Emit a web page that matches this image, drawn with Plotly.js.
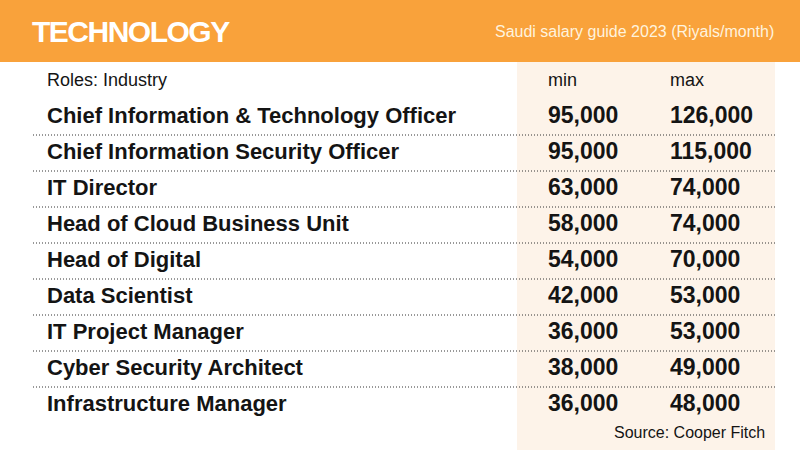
<!DOCTYPE html>
<html>
<head>
<meta charset="utf-8">
<script src="https://cdn.plot.ly/plotly-3.0.1.min.js"></script>
<style>
  html, body { margin: 0; padding: 0; background: #fff; }
  #chart { width: 800px; height: 450px; }
</style>
</head>
<body>
<div id="chart"></div>
<script>
// ── Data ──
const roles = [
    "Chief Information & Technology Officer",
    "Chief Information Security Officer",
    "IT Director",
    "Head of Cloud Business Unit",
    "Head of Digital",
    "Data Scientist",
    "IT Project Manager",
    "Cyber Security Architect",
    "Infrastructure Manager"
];
const minPay = [95000, 95000, 63000, 58000, 54000, 42000, 36000, 38000, 36000];
const maxPay = [126000, 115000, 74000, 74000, 70000, 53000, 53000, 49000, 48000];
const headers = ["Roles: Industry", "min", "max"];

// ── Layout helpers ──
const FONT = "'Liberation Sans Narrow', 'Liberation Sans', sans-serif";
const ROW_H = 36;
const FIRST_ROW = 117;          // px centre of first data row
const y0 = -FIRST_ROW / ROW_H;  // axis value at top edge
const y1 = y0 + 450 / ROW_H;

const rowIdx = roles.map((_, i) => i);
const fmt = v => v.toLocaleString("en-US");

// column x positions (px, since the x axis spans 0..800)
const COL_ROLE = 47, COL_MIN = 548, COL_MAX = 670;

function textCol(x, texts, ys, size, weight) {
    return {
        type: "scatter",
        mode: "text",
        x: ys.map(() => x),
        y: ys,
        text: texts,
        textposition: "middle right",
        textfont: { family: FONT, size: size, color: "#141414", weight: weight },
        hoverinfo: "skip",
        showlegend: false,
        cliponaxis: false
    };
}

const traces = [
    textCol(COL_ROLE, roles, rowIdx, 22, 700),
    textCol(COL_MIN, minPay.map(fmt), rowIdx, 23, 700),
    textCol(COL_MAX, maxPay.map(fmt), rowIdx, 23, 700),
    // header row sits one row above the first data row
    {
        type: "scatter",
        mode: "text",
        x: [COL_ROLE, COL_MIN, COL_MAX],
        y: [-0.98, -0.98, -0.98],
        text: headers,
        textposition: "middle right",
        textfont: { family: FONT, size: 18, color: "#141414" },
        hoverinfo: "skip",
        showlegend: false,
        cliponaxis: false
    }
];

// dotted separators between rows
const seps = rowIdx.slice(0, -1).map(i => ({
    type: "line", xref: "x", yref: "y",
    x0: 33, x1: 775, y0: i + 0.5, y1: i + 0.5,
    line: { color: "#333", width: 1, dash: "1px,2px" },
    layer: "above"
}));

const bandBottom = 1 - 62 / 450;

const layout = {
    width: 800,
    height: 450,
    margin: { l: 0, r: 0, t: 0, b: 0 },
    paper_bgcolor: "#ffffff",
    plot_bgcolor: "rgba(0,0,0,0)",
    xaxis: { range: [0, 800], visible: false, fixedrange: true },
    yaxis: { range: [y1, y0], visible: false, fixedrange: true },
    shapes: [
        { type: "rect", xref: "paper", yref: "paper", x0: 0, x1: 1, y0: bandBottom, y1: 1,
          fillcolor: "#F9A23B", line: { width: 0 }, layer: "below" },
        { type: "rect", xref: "x", yref: "paper", x0: 517, x1: 775, y0: 0, y1: bandBottom,
          fillcolor: "#FDF3E9", line: { width: 0 }, layer: "below" }
    ].concat(seps),
    annotations: [
        { text: "<span style='letter-spacing:-1.5px'>TECHNOLOGY</span>", xref: "x", yref: "paper",
          x: 30, y: 1 - 31 / 450,
          xanchor: "left", yanchor: "middle", showarrow: false,
          font: { family: FONT, size: 30, color: "#ffffff", weight: 700 } },
        { text: "Saudi salary guide 2023 (Riyals/month)", xref: "x", yref: "paper",
          x: 776, y: 1 - 31 / 450, xanchor: "right", yanchor: "middle", showarrow: false,
          font: { family: FONT, size: 16, color: "#FFF3DE" } },
        { text: "Source: Cooper Fitch", xref: "x", yref: "paper",
          x: 767, y: 1 - 432 / 450, xanchor: "right", yanchor: "middle", showarrow: false,
          font: { family: FONT, size: 16, color: "#141414" } }
    ]
};

Plotly.newPlot("chart", traces, layout, { displayModeBar: false, staticPlot: true });
</script>
</body>
</html>
